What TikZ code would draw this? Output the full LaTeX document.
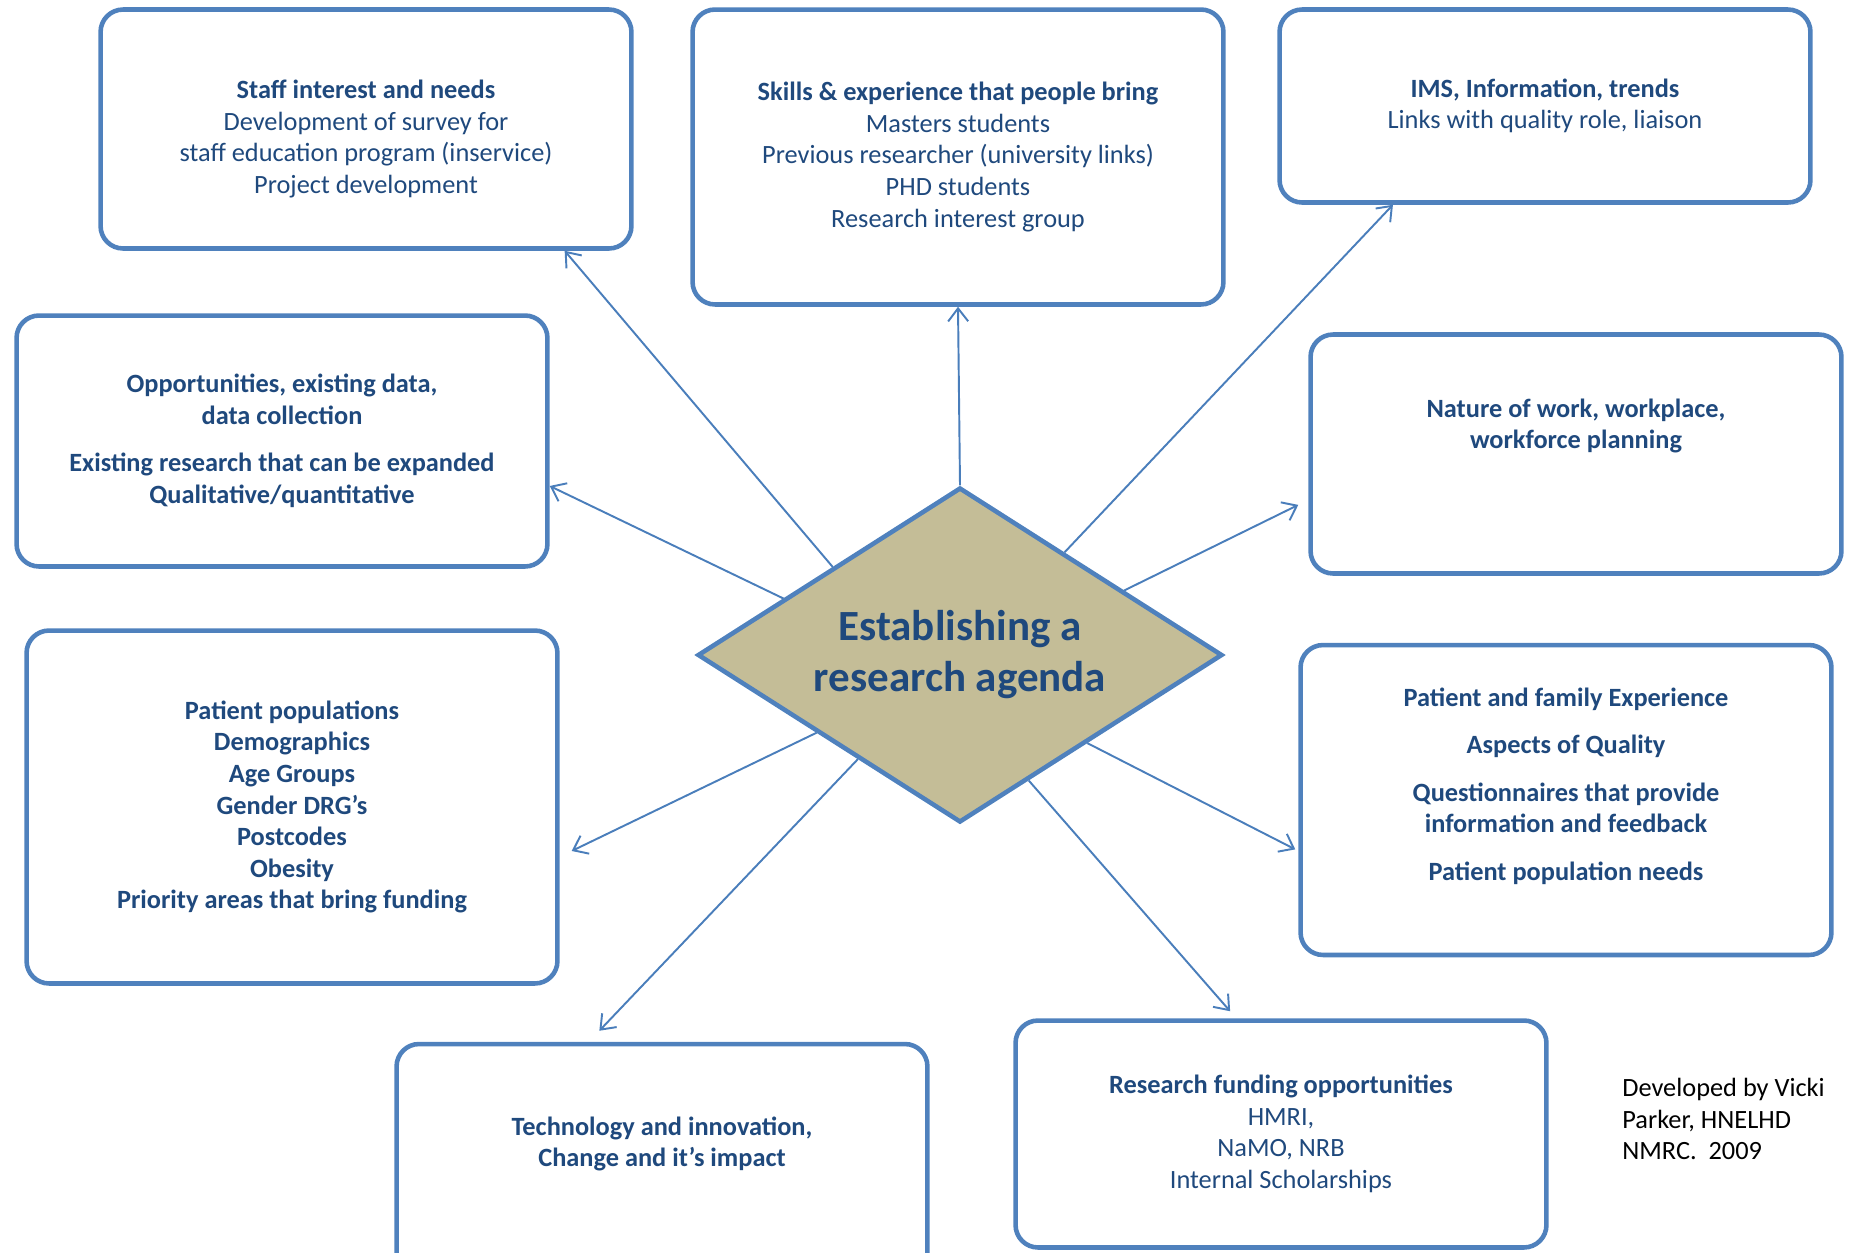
\documentclass[tikz,border=0pt]{standalone}
\usepackage{fontspec}
\setmainfont{Carlito}
\usetikzlibrary{arrows.meta,shapes.geometric,calc}

\definecolor{boxblue}{HTML}{4F81BD}
\definecolor{lineblue}{HTML}{4A7EBB}
\definecolor{textblue}{HTML}{1F497D}
\definecolor{khaki}{HTML}{C4BD97}

\begin{document}
\begin{tikzpicture}[x=0.02cm,y=-0.02cm,
      box_node/.style={
         rectangle,
         rounded corners=0.45cm,
         draw=boxblue,
         line width=2.6pt,
         fill=white,
         inner sep=0pt,
         minimum width=10.62cm,
         align=center,
         text=textblue,
         font=\fontsize{15}{18}\selectfont},
       bold_node/.style={
         box_node,
         font=\fontsize{15}{18}\selectfont\bfseries},
       text_node/.style={
         align=center,
         text=textblue,
         inner sep=0pt,
         font=\fontsize{15}{18}\selectfont\bfseries},
       centre_node/.style={
         diamond,
         aspect=1.57,
         draw=boxblue,
         line width=2.6pt,
         fill=khaki,
         inner sep=0pt,
         minimum width=10.5cm,
         minimum height=6.7cm,
         align=center,
         text=textblue,
         font=\fontsize{24.5}{29}\selectfont\bfseries},
       arrow_blue/.style={
        -{Straight Barb[length=0.26cm,width=0.4cm]},
        draw=lineblue,
        line width=1.1pt,
        }
]
      \useasboundingbox (0,0) rectangle (1854,1252);

      % centre
      \node[centre_node] (dia) at (960,655) {Establishing a\\ research agenda};

      % top row
      \node[box_node,minimum height=4.78cm] (staff) at (366,129) {};
      \node[text_node,font=\fontsize{15}{18}\selectfont] (stafftxt) at ([yshift=-0.2cm]staff.center)
        {\textbf{Staff interest and needs}\\ Development of survey for\\ staff education program (inservice)\\ Project development};
      \node[box_node,minimum height=5.9cm] (skills) at (958,157)
        {\textbf{Skills \& experience that people bring}\\ Masters students\\ Previous researcher (university links)\\ PHD students\\ Research interest group};
      \node[box_node,minimum height=3.86cm] (ims) at (1545,106)
        {\textbf{IMS, Information, trends}\\ Links with quality role, liaison};

      % left side
      \node[bold_node,minimum height=5.02cm] (opps) at (282,441)
        {Opportunities, existing data,\\ data collection\\[9pt] Existing research that can be expanded\\ Qualitative/quantitative};
      \node[bold_node,minimum height=7.06cm] (patpop) at (292,807)
        {Patient populations\\ Demographics\\ Age Groups\\ Gender DRG’s\\ Postcodes\\ Obesity\\ Priority areas that bring funding};

      % right side
      \node[box_node,minimum height=4.78cm] (nature) at (1576,454) {};
      \node[text_node] (naturetxt) at ([yshift=0.56cm]nature.center)
        {Nature of work, workplace,\\ workforce planning};
      \node[box_node,minimum height=6.2cm] (patfam) at (1566,800) {};
      \node[text_node] (patfamtxt) at ([yshift=0.28cm]patfam.center)
        {Patient and family Experience\\[9pt] Aspects of Quality\\[9pt] Questionnaires that provide\\ information and feedback\\[9pt] Patient population needs};

      % bottom row
      \node[box_node,minimum height=4.96cm] (tech) at (662,1168) {};
      \node[text_node] (techtxt) at ([yshift=0.48cm]tech.center)
        {Technology and innovation,\\ Change and it’s impact};
      \node[box_node,minimum height=4.54cm] (fund) at (1281,1134)
        {\textbf{Research funding opportunities}\\ HMRI,\\ NaMO, NRB\\ Internal Scholarships};

      \node[anchor=west,align=left,inner sep=0pt,font=\fontsize{15}{18}\selectfont] (credit) at (1622,1119)
        {Developed by Vicki\\ Parker, HNELHD\\ NMRC.~ 2009};

      % arrows out of the diamond
      \draw[arrow_blue] ($(dia.north)!0.481!(dia.west)$) -- ($(staff.south west)!0.871!(staff.south east)$);
      \draw[arrow_blue] (dia.north) -- (skills.south);
      \draw[arrow_blue] ($(dia.north)!0.395!(dia.east)$) -- ($(ims.south west)!0.216!(ims.south east)$);
      \draw[arrow_blue] ($(dia.north)!0.667!(dia.west)$) -- ($(opps.north east)!0.676!(opps.south east)$);
      \draw[arrow_blue] ($(dia.north)!0.62!(dia.east)$) -- ($(nature.north west)!0.709!(nature.south west)+(-10,0)$);
      \draw[arrow_blue] ($(dia.south)!0.542!(dia.west)$) -- ($(patpop.north east)!0.623!(patpop.south east)+(12,0)$);
      \draw[arrow_blue] ($(dia.south)!0.481!(dia.east)$) -- ($(patfam.north west)!0.657!(patfam.south west)+(-3,0)$);
      \draw[arrow_blue] ($(dia.south)!0.386!(dia.west)$) -- ($(tech.north west)!0.383!(tech.north east)+(0,-11)$);
      \draw[arrow_blue] ($(dia.south)!0.26!(dia.east)$) -- ($(fund.north west)!0.405!(fund.north east)+(0,-7)$);

\end{tikzpicture}
\end{document}
